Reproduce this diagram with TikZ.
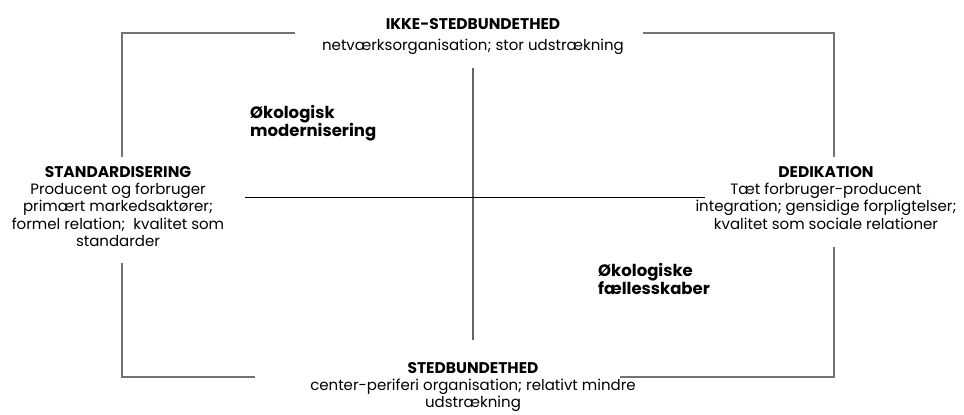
\documentclass[tikz,border=0pt]{standalone}
\usepackage{fontspec}
\setmainfont{Poppins}
\begin{document}
\begin{tikzpicture}[x=1pt,y=-1pt,
  txt/.style={align=center,inner sep=0pt,font=\fontsize{15}{17.5}\selectfont},
  head/.style={inner sep=0pt,anchor=base,font=\fontsize{15.5}{17}\selectfont\bfseries},
  quad/.style={align=left,inner sep=0pt,font=\fontsize{16.5}{18}\selectfont\bfseries},
  framestyle/.style={draw=black!55,line width=1.4pt},
  shadowstyle/.style={draw={rgb,255:red,105;green,105;blue,140},line width=1.4pt},
  axisv/.style={draw=black!60,line width=1.2pt},
  axish/.style={draw=black,line width=1pt}]
\useasboundingbox (0,0) rectangle (964,415);
% frame coordinates
\coordinate (tl) at (122,33);
\coordinate (tr) at (834,33);
\coordinate (bl) at (122,377);
\coordinate (br) at (834,377);
\coordinate (t1) at (295,33);
\coordinate (t2) at (643,33);
\coordinate (l1) at (122,157);
\coordinate (l2) at (122,263);
\coordinate (r1) at (834,157);
\coordinate (r2) at (834,247);
\coordinate (b1) at (255,377);
\coordinate (b2) at (620,377);
% shadow
\begin{scope}[shift={(1.8,1.8)}]
\draw[shadowstyle] (t1) -- (tl) -- (l1);
\draw[shadowstyle] (l2) -- (bl) -- (b1);
\draw[shadowstyle] (b2) -- (br) -- (r2);
\draw[shadowstyle] (r1) -- (tr) -- (t2);
\end{scope}
\draw[framestyle] (t1) -- (tl) -- (l1);
\draw[framestyle] (l2) -- (bl) -- (b1);
\draw[framestyle] (b2) -- (br) -- (r2);
\draw[framestyle] (r1) -- (tr) -- (t2);
% axes
\coordinate (vtop) at (473,68);
\coordinate (vbot) at (473,340);
\coordinate (hl) at (245,197);
\coordinate (hr) at (705,197);
\draw[axisv] (vtop) -- (vbot);
\draw[axish] (hl) -- (hr);
% texts
\node[head] (topH) at (473,29) {IKKE-STEDBUNDETHED};
\node[txt,anchor=base] (topT) at (473,50) {netværksorganisation; stor udstrækning};
\node[head] (leftH) at (118,177) {STANDARDISERING};
\node[txt,anchor=base] (leftT1) at (118,194) {Producent og forbruger};
\node[txt,anchor=base] (leftT2) at (118,211.5) {primært markedsaktører;};
\node[txt,anchor=base] (leftT3) at (118,229) {formel relation;\ \ kvalitet som};
\node[txt,anchor=base] (leftT4) at (118,246.5) {standarder};
\node[head] (rightH) at (826,177) {DEDIKATION};
\node[txt,anchor=base] (rightT1) at (826,194) {Tæt forbruger-producent};
\node[txt,anchor=base] (rightT2) at (826,211.5) {integration; gensidige forpligtelser;};
\node[txt,anchor=base] (rightT3) at (826,229) {kvalitet som sociale relationer};
\node[head] (botH) at (473,373) {STEDBUNDETHED};
\node[txt,anchor=base] (botT1) at (473,390) {center-periferi organisation; relativt mindre};
\node[txt,anchor=base] (botT2) at (473,407.5) {udstrækning};
\node[quad,anchor=base west] (q1a) at (250,118) {Økologisk};
\node[quad,anchor=base west] (q1b) at (250,136) {modernisering};
\node[quad,anchor=base west] (q2a) at (598,276) {Økologiske};
\node[quad,anchor=base west] (q2b) at (598,294) {fællesskaber};
\end{tikzpicture}
\end{document}
